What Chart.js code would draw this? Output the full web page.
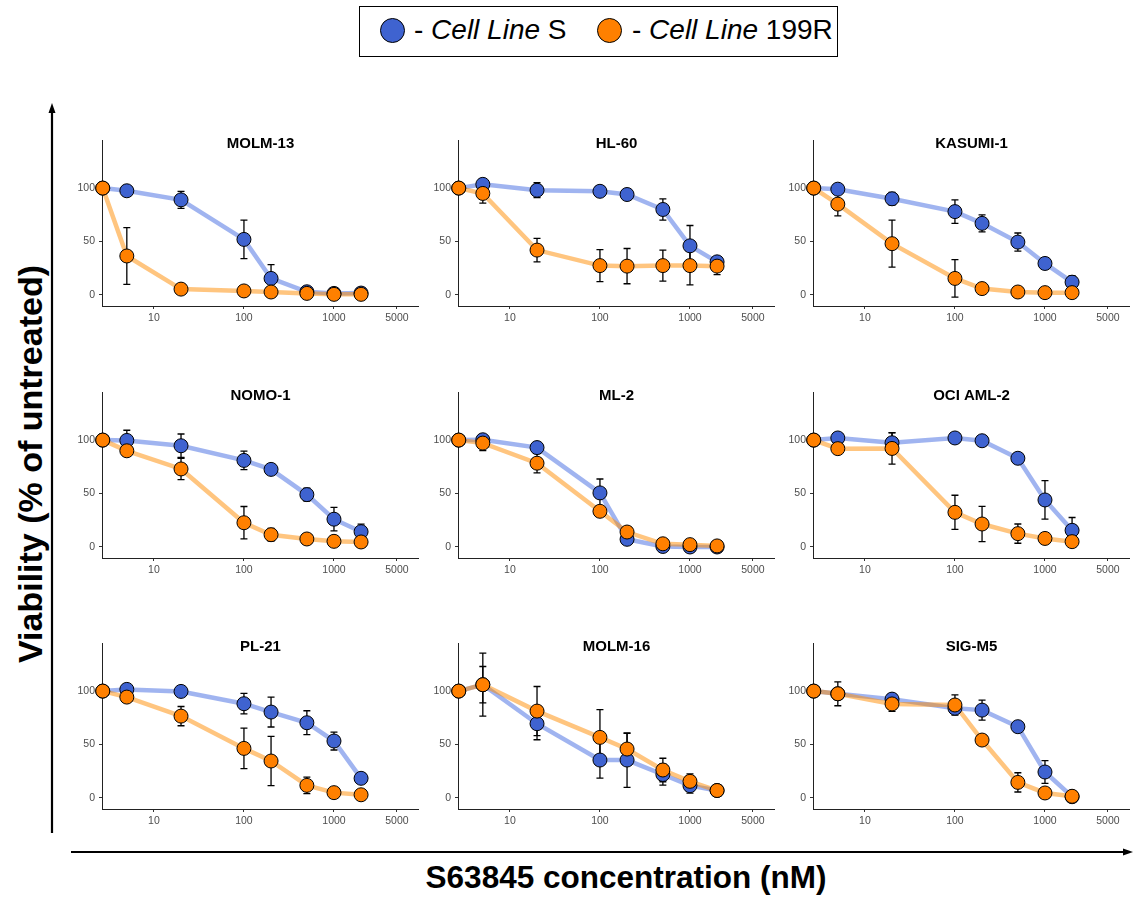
<!DOCTYPE html>
<html>
<head>
<meta charset="utf-8">
<script src="https://cdn.jsdelivr.net/npm/chart.js@4.4.1/dist/chart.umd.min.js"></script>
<style>
  body { margin: 0; background: #fff; font-family: "Liberation Sans", Arial, sans-serif; }
  #page { position: relative; width: 1133px; height: 897px; overflow: hidden; }
  .panel { position: absolute; }
  #legend { position: absolute; left: 359px; top: 6px; width: 477px; height: 49px; border: 1.5px solid #000; }
  .dot { position: absolute; top: 11px; width: 23px; height: 23px; border-radius: 50%; border: 1.5px solid #000; }
  .lab { position: absolute; top: 8px; font-size: 28px; line-height: 30px; color: #000; white-space: nowrap; }
  #ytitle { position: absolute; left: 30px; top: 464px; transform: translate(-50%, -50%) rotate(-90deg);
            font-weight: bold; font-size: 34px; white-space: nowrap; }
  #xtitle { position: absolute; left: 26px; width: 1200px; top: 859px; text-align: center;
            font-weight: bold; font-size: 31.5px; white-space: nowrap; }
  svg { position: absolute; left: 0; top: 0; }
</style>
</head>
<body>
<div id="page">
  <div id="legend">
    <div class="dot" style="left:20px;background:#3f63d0"></div>
    <div class="lab" style="left:54px">- <i>Cell Line</i> S</div>
    <div class="dot" style="left:237px;background:#ff8000"></div>
    <div class="lab" style="left:272px">- <i>Cell Line</i> 199R</div>
  </div>
  <svg width="1133" height="897">
    <line x1="52" y1="833" x2="52" y2="110" stroke="#000" stroke-width="2.2"/>
    <polygon points="52,103 48.5,113 55.5,113" fill="#000"/>
    <line x1="71" y1="852" x2="1126" y2="852" stroke="#000" stroke-width="2.2"/>
    <polygon points="1133,852 1123,848.5 1123,855.5" fill="#000"/>
  </svg>
  <div id="ytitle">Viability (% of untreated)</div>
  <div id="xtitle">S63845 concentration (nM)</div>
</div>
<script>
// doses in nM (first point = untreated control, drawn at the left edge)
const doses = [2.7, 5, 20, 100, 200, 500, 1000, 2000];
const xTicks = [10, 100, 1000, 5000];
const yTicks = [0, 50, 100];

const panelNames = ['MOLM-13', 'HL-60', 'KASUMI-1', 'NOMO-1', 'ML-2', 'OCI AML-2', 'PL-21', 'MOLM-16', 'SIG-M5'];

// Cell Line S / 199R mean viability and error
const molm13S    = [100, 97.5, 89, 52, 15.5, 3, 1.5, 1.8];
const molm13SErr = [0, 4, 8, 18, 13, 1, 1, 1];
const molm13R    = [100, 36.5, 5.5, 3.8, 2.8, 1.5, 0.6, 0.6];
const molm13RErr = [0, 26.5, 1, 1, 1, 1, 0.5, 0.5];

const hl60S    = [100, 103.5, 98, 97, 94, 80, 46, 31];
const hl60SErr = [0, 2, 7, 1, 1, 10, 19, 3];
const hl60R    = [100, 95, 42, 27.5, 27, 27.5, 27.5, 27];
const hl60RErr = [0, 9, 11, 15, 16.5, 14.5, 18, 8];

const kasumi1S    = [100, 99, 90, 78, 67, 49.5, 29.5, 12];
const kasumi1SErr = [0, 1, 6, 11, 8, 8.5, 5.5, 6];
const kasumi1R    = [100, 85, 48, 15.5, 6, 2.8, 2.2, 2.2];
const kasumi1RErr = [0, 11, 22, 17.5, 1, 1, 1, 1];

const nomo1S    = [100, 99.7, 94.7, 81, 72.6, 49, 26, 14.3];
const nomo1SErr = [0, 9.5, 11, 8.7, 1, 6, 11, 7];
const nomo1R    = [100, 90, 73, 22.7, 11.5, 7.5, 5.3, 4.7];
const nomo1RErr = [0, 1, 10, 15.2, 6, 1, 1, 1];

const ml2S    = [100, 100.3, 93, 50.6, 7.2, 0.5, 0, 0];
const ml2SErr = [0, 3, 2, 13, 2, 0.5, 0.5, 0.5];
const ml2R    = [100, 97.2, 78.4, 33.4, 14, 3, 2.2, 1];
const ml2RErr = [0, 7, 9, 2, 2, 1, 1, 1];

const ociAml2S    = [100, 102, 97.5, 102, 99.4, 83, 44, 15.6];
const ociAml2SErr = [0, 1, 9.5, 1, 1, 1, 18, 12];
const ociAml2R    = [100, 92, 92.2, 32.4, 21.5, 12.5, 8, 5];
const ociAml2RErr = [0, 1, 14.6, 16, 16.5, 9, 4, 1];

const pl21S    = [100, 101.6, 99.7, 88.2, 80.4, 70.4, 53.3, 18.4];
const pl21SErr = [0, 1, 1, 9.6, 14, 11.2, 8.4, 1];
const pl21R    = [100, 94.4, 76.6, 46.4, 34.6, 11.8, 5, 3];
const pl21RErr = [0, 1, 9, 19, 23, 7.8, 1, 1];

const molm16S    = [100, 106, 69.5, 35.5, 35.5, 22, 11.5, 7];
const molm16SErr = [0, 17, 15, 17, 25.5, 10, 7, 1];
const molm16R    = [100, 106, 81.3, 56.7, 45.8, 26.2, 15.6, 7];
const molm16RErr = [0, 29.5, 23, 26, 14.6, 11, 7, 1];

const sigM5S    = [100, 97.5, 92.5, 84, 82.2, 66.7, 24.3, 1.2];
const sigM5SErr = [0, 1, 2, 4, 9.4, 1, 10.6, 1];
const sigM5R    = [100, 97.5, 88, 87, 54.2, 14.6, 4.7, 1.6];
const sigM5RErr = [0, 11.2, 7, 9.4, 5, 9, 1, 1];

const panelSeries = [
  [molm13S, molm13SErr, molm13R, molm13RErr],
  [hl60S, hl60SErr, hl60R, hl60RErr],
  [kasumi1S, kasumi1SErr, kasumi1R, kasumi1RErr],
  [nomo1S, nomo1SErr, nomo1R, nomo1RErr],
  [ml2S, ml2SErr, ml2R, ml2RErr],
  [ociAml2S, ociAml2SErr, ociAml2R, ociAml2RErr],
  [pl21S, pl21SErr, pl21R, pl21RErr],
  [molm16S, molm16SErr, molm16R, molm16RErr],
  [sigM5S, sigM5SErr, sigM5R, sigM5RErr]
];

const colLeft = [102, 458, 813];
const rowTop = [140, 392, 643];
const TOP_PAD = 10;
const Y_AXIS_W = 40;
const X_AXIS_H = 24;
const AREA_W = 317;
const AREA_H = 166;

const fontFamily = '"Liberation Sans", Arial, sans-serif';

// error bars drawn after both lines, before the points
const errorBarPlugin = {
  id: 'errorBars',
  afterDatasetDraw(chart, args) {
    if (args.index !== 2) return;
    const ctx = chart.ctx;
    const xs = chart.scales.x, ys = chart.scales.y;
    ctx.save();
    ctx.strokeStyle = '#000';
    ctx.lineWidth = 1.3;
    [1, 0].forEach(function(di) {
      const ds = chart.data.datasets[di];
      ds.data.forEach(function(p, i) {
        const e = ds.errors[i];
        if (!e) return;
        const px = xs.getPixelForValue(p.x);
        const y1 = ys.getPixelForValue(p.y + e);
        const y2 = ys.getPixelForValue(p.y - e);
        ctx.beginPath();
        ctx.moveTo(px, y1); ctx.lineTo(px, y2);
        ctx.moveTo(px - 3.5, y1); ctx.lineTo(px + 3.5, y1);
        ctx.moveTo(px - 3.5, y2); ctx.lineTo(px + 3.5, y2);
        ctx.stroke();
      });
    });
    ctx.restore();
  }
};

const panelTitlePlugin = {
  id: 'panelTitle',
  afterDraw(chart) {
    const ctx = chart.ctx;
    const a = chart.chartArea;
    ctx.save();
    ctx.font = 'bold 15px ' + fontFamily;
    ctx.fillStyle = '#000';
    ctx.textAlign = 'center';
    ctx.textBaseline = 'middle';
    ctx.fillText(chart.options.plugins.panelTitle.text, (a.left + a.right) / 2, a.top + 4);
    ctx.restore();
  }
};

function points(values) {
  return doses.map(function(d, i) { return { x: d, y: values[i] }; });
}

function makePanel(idx) {
  const col = idx % 3, row = Math.floor(idx / 3);
  const s = panelSeries[idx];
  const canvas = document.createElement('canvas');
  canvas.className = 'panel';
  canvas.width = Y_AXIS_W + AREA_W;
  canvas.height = TOP_PAD + AREA_H + X_AXIS_H;
  canvas.style.left = (colLeft[col] - Y_AXIS_W) + 'px';
  canvas.style.top = (rowTop[row] - TOP_PAD) + 'px';
  document.getElementById('page').appendChild(canvas);

  const tickFont = { family: fontFamily, size: 10.5 };

  new Chart(canvas.getContext('2d'), {
    type: 'scatter',
    data: {
      datasets: [
        { label: '199R', data: points(s[2]), errors: s[3], showLine: false, clip: false,
          pointRadius: 7, pointHoverRadius: 7, pointBackgroundColor: '#ff8000', pointBorderColor: '#000', pointBorderWidth: 1 },
        { label: 'S', data: points(s[0]), errors: s[1], showLine: false, clip: false,
          pointRadius: 7, pointHoverRadius: 7, pointBackgroundColor: '#3f63d0', pointBorderColor: '#000', pointBorderWidth: 1 },
        { label: '199R line', data: points(s[2]), showLine: true, clip: false, pointRadius: 0,
          borderColor: 'rgba(255,140,0,0.5)', borderWidth: 4.5, tension: 0 },
        { label: 'S line', data: points(s[0]), showLine: true, clip: false, pointRadius: 0,
          borderColor: 'rgba(65,105,225,0.5)', borderWidth: 4.5, tension: 0 }
      ]
    },
    options: {
      responsive: false,
      animation: false,
      events: [],
      layout: { padding: { top: TOP_PAD, left: 0, right: 0, bottom: 0 }, autoPadding: false },
      plugins: {
        legend: { display: false },
        tooltip: { enabled: false },
        panelTitle: { text: panelNames[idx] }
      },
      scales: {
        x: {
          type: 'logarithmic',
          min: 2.65,
          max: 8800,
          afterBuildTicks: function(scale) { scale.ticks = xTicks.map(function(v) { return { value: v }; }); },
          afterFit: function(scale) {
            scale.height = X_AXIS_H;
            scale.paddingLeft = 0;
            scale.paddingRight = 0;
          },
          ticks: { callback: function(v) { return String(v); }, font: tickFont, color: '#4d4d4d',
                   padding: 3, autoSkip: false, maxRotation: 0 },
          grid: { drawOnChartArea: false, tickLength: 3, color: '#333' },
          border: { color: '#222', width: 1 }
        },
        y: {
          min: -10.3,
          max: 145,
          afterBuildTicks: function(scale) { scale.ticks = yTicks.map(function(v) { return { value: v }; }); },
          afterFit: function(scale) {
            scale.width = Y_AXIS_W;
            scale.paddingTop = 0;
            scale.paddingBottom = 0;
          },
          ticks: { font: tickFont, color: '#4d4d4d', padding: 4 },
          grid: { drawOnChartArea: false, tickLength: 3, color: '#333' },
          border: { color: '#222', width: 1 }
        }
      }
    },
    plugins: [errorBarPlugin, panelTitlePlugin]
  });
}

for (let i = 0; i < panelNames.length; i++) {
  makePanel(i);
}
</script>
</body>
</html>
